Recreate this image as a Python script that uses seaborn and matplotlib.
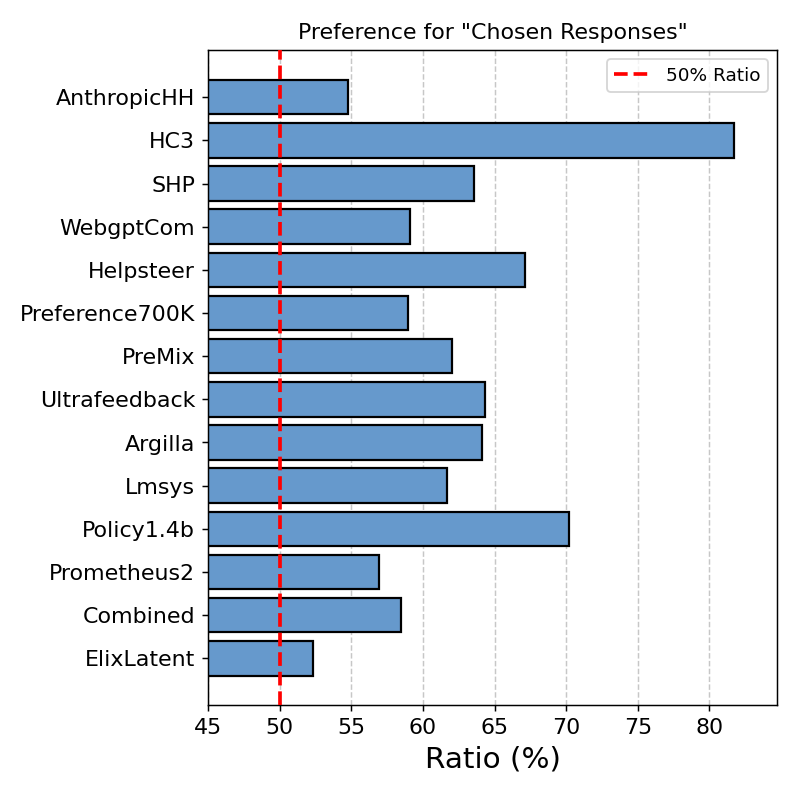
import matplotlib
matplotlib.use("Agg")
import matplotlib.pyplot as plt
import seaborn as sns
import pandas as pd

datasets = ["AnthropicHH", "HC3", "SHP", "WebgptCom", "Helpsteer", "Preference700K",
            "PreMix", "Ultrafeedback", "Argilla", "Lmsys", "Policy1.4b",
            "Prometheus2", "Combined", "ElixLatent"]
ratios = [54.75, 81.72, 63.53, 59.07, 67.15, 58.94,
          62.0, 64.33, 64.09, 61.65, 70.17,
          56.92, 58.49, 52.33]

df = pd.DataFrame({"Dataset": datasets, "Ratio": ratios})

plt.rcParams['font.family'] = ['DejaVu Sans']

fig = plt.figure(figsize=(6, 6), dpi=132.84)
ax = fig.add_axes([0.261, 0.115, 0.714, 0.822])

sns.barplot(data=df, x="Ratio", y="Dataset", orient="h", color="#6699CC",
            saturation=1, edgecolor="black", linewidth=1.2, width=0.8, ax=ax)

ax.axvline(50, color="red", linestyle="--", linewidth=2, label="50% Ratio", zorder=3)
ax.set_xlim(45, max(ratios) + 3)
n = len(datasets)
pad = 0.05 * (n - 1 + 0.8)
ax.set_ylim(n - 1 + 0.4 + pad, -0.4 - pad)
ax.set_xticks(range(45, 85, 5))
ax.grid(axis="x", linestyle="--", color="#b0b0b0", linewidth=0.8, alpha=0.7)
ax.set_axisbelow(True)
ax.set_title('Preference for "Chosen Responses"', fontsize=12)
ax.set_xlabel("Ratio (%)", fontsize=16)
ax.set_ylabel("")
ax.tick_params(axis="both", labelsize=12)
ax.legend(loc="upper right", fontsize=10)

fig.savefig("out.png", dpi=132.84)
